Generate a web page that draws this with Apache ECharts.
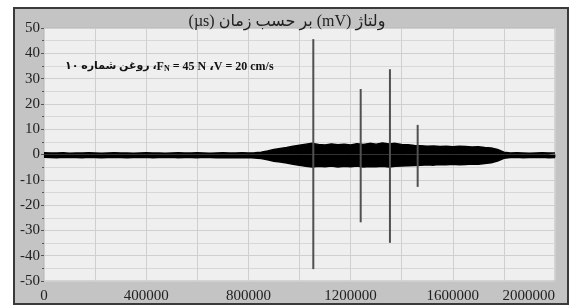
<!DOCTYPE html>
<html>
<head>
<meta charset="utf-8">
<script src="https://cdn.jsdelivr.net/npm/echarts@6/dist/echarts.min.js"></script>
<style>
  html, body { margin: 0; padding: 0; background: #fff; }
  #chart { width: 573px; height: 306px; }
</style>
</head>
<body>
<div id="chart"></div>
<script>
// ولتاژ بر حسب زمان
var chart = echarts.init(document.getElementById('chart'));

// noise envelope, one sample every 25000 µs (0 .. 2000000)
var sampleStep = 25000;
var envUpper = [
  0.7, 0.6, 0.6, 0.7, 0.5, 0.6, 0.6, 0.7, 0.6, 0.5,
  0.6, 0.7, 0.6, 0.6, 0.5, 0.6, 0.7, 0.6, 0.6, 0.5,
  0.6, 0.7, 0.6, 0.6, 0.7, 0.6, 0.5, 0.6, 0.7, 0.6,
  0.6, 0.7, 0.6, 0.7, 0.9, 1.4, 2.0, 2.4, 2.8, 3.3,
  3.7, 4.1, 4.4, 4.0, 3.8, 4.2, 3.9, 4.1, 3.8, 4.3,
  4.0, 4.4, 4.1, 4.5, 4.2, 4.4, 4.0, 3.9, 3.6, 3.5,
  3.3, 3.4, 3.2, 3.3, 3.1, 3.3, 3.2, 3.0, 3.1, 2.8,
  2.6, 2.0, 0.9, 0.6, 0.7, 0.6, 0.5, 0.6, 0.7, 0.6,
  0.6
];
var envLower = [
  -1.1, -1.2, -1.3, -1.1, -1.2, -1.2, -1.3, -1.1, -1.2, -1.3,
  -1.2, -1.1, -1.2, -1.3, -1.2, -1.2, -1.1, -1.3, -1.2, -1.2,
  -1.1, -1.3, -1.2, -1.2, -1.3, -1.1, -1.2, -1.3, -1.2, -1.3,
  -1.2, -1.3, -1.2, -1.4, -1.6, -2.1, -2.7, -3.0, -3.4, -3.9,
  -4.3, -4.6, -4.9, -4.6, -4.8, -4.5, -4.9, -4.6, -4.8, -4.5,
  -4.9, -4.7, -4.8, -4.6, -4.9, -4.6, -4.5, -4.4, -4.3, -4.2,
  -4.1, -4.2, -4.0, -4.1, -3.9, -4.1, -4.0, -3.8, -3.9, -3.6,
  -3.3, -2.6, -1.5, -1.2, -1.1, -1.3, -1.2, -1.2, -1.1, -1.3,
  -1.2
];

// spikes (µs, peak mV, trough mV)
var spikeTimes = [1054000, 1239500, 1354000, 1462500];
var spikeHigh = [45.6, 25.9, 33.7, 11.7];
var spikeLow = [-45.3, -26.8, -34.9, -12.8];

var xTicks = [0, 400000, 800000, 1200000, 1600000, 2000000];

var serif = '"Liberation Serif", "Times New Roman", "DejaVu Sans", serif';

function envData(arr) {
  return arr.map(function (v, i) { return [i * sampleStep, v]; });
}

var series = [
  {
    type: 'line',
    data: envData(envUpper),
    showSymbol: false,
    lineStyle: { color: '#000', width: 1.5 },
    areaStyle: { color: '#000', opacity: 1, origin: 0 },
    z: 3
  },
  {
    type: 'line',
    data: envData(envLower),
    showSymbol: false,
    lineStyle: { color: '#000', width: 1.5 },
    areaStyle: { color: '#000', opacity: 1, origin: 0 },
    z: 3
  }
];
spikeTimes.forEach(function (t, i) {
  series.push({
    type: 'line',
    data: [[t, spikeHigh[i]], [t, spikeLow[i]]],
    showSymbol: false,
    lineStyle: { color: '#505050', width: 2 },
    z: 4
  });
});

var option = {
  animation: false,
  backgroundColor: '#fff',
  graphic: [{
    type: 'rect',
    z: -10,
    shape: { x: 14, y: 8, width: 554, height: 296 },
    style: { fill: '#c4c4c4', stroke: '#3a3a3a', lineWidth: 2 }
  }],
  title: [{
    text: '(µs) بر حسب زمان (mV) ولتاژ',
    left: 282,
    top: 9,
    textAlign: 'center',
    textStyle: { fontFamily: serif, fontSize: 16, fontWeight: 'normal', color: '#222' }
  }, {
    text: '{r|روغن شماره ۱۰ ،}{a|F}{s|N}{a| = 45 N ،V = 20 cm/s}',
    left: 60,
    top: 55,
    textStyle: {
      rich: {
        r: { fontFamily: serif, fontSize: 11, fontWeight: 'bold', color: '#111' },
        a: { fontFamily: serif, fontSize: 12, fontWeight: 'bold', color: '#111' },
        s: { fontFamily: serif, fontSize: 8, fontWeight: 'bold', color: '#111', verticalAlign: 'bottom', padding: [5, 0, 0, 0] }
      }
    }
  }],
  grid: {
    left: 44, top: 28, width: 511, height: 253,
    show: true,
    backgroundColor: '#efefef',
    borderColor: '#b8b8b8',
    borderWidth: 1
  },
  xAxis: {
    type: 'value',
    min: 0, max: 2000000, interval: 200000,
    axisLine: { show: false },
    axisTick: { show: true, length: 3, lineStyle: { color: '#777' } },
    axisLabel: {
      fontFamily: serif, fontSize: 15, color: '#222', margin: 8,
      alignMaxLabel: 'right',
      formatter: function (v) { return xTicks.indexOf(v) >= 0 ? String(v) : ''; }
    },
    splitLine: { show: true, lineStyle: { color: '#cfcfcf', width: 1 } }
  },
  yAxis: {
    type: 'value',
    min: -50, max: 50, interval: 10,
    axisLine: { show: false },
    axisTick: { show: true, length: 3, lineStyle: { color: '#555' } },
    minorTick: { show: true, splitNumber: 2, length: 2, lineStyle: { color: '#555' } },
    axisLabel: { fontFamily: serif, fontSize: 15, color: '#222', margin: 4 },
    splitLine: { show: true, lineStyle: { color: '#cfcfcf', width: 1 } },
    minorSplitLine: { show: true, lineStyle: { color: '#d8d8d8', width: 1 } }
  },
  series: series
};
if (option) {
  chart.setOption(option);
}
</script>
</body>
</html>
